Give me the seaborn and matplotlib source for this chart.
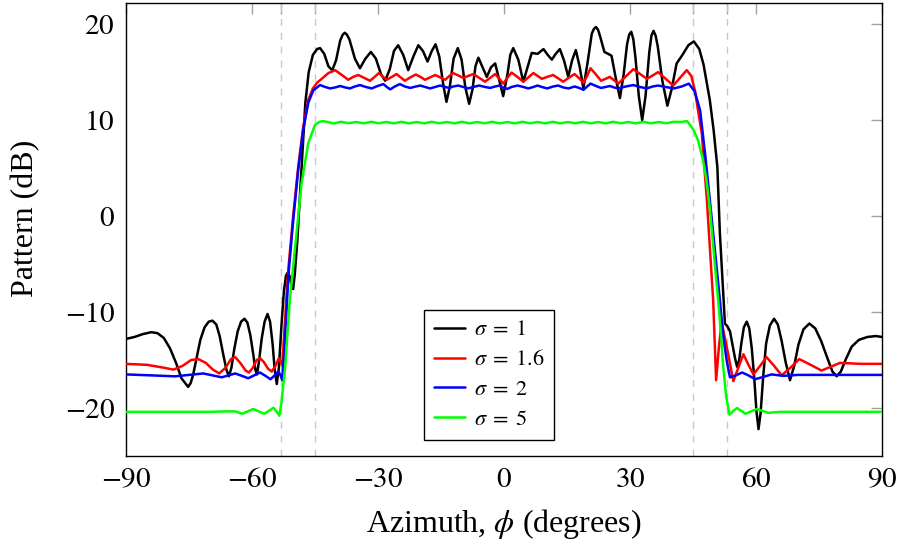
import numpy as np
import pandas as pd
import matplotlib
matplotlib.use("Agg")
import matplotlib.pyplot as plt
import seaborn as sns

# ---------------- data: (azimuth deg, pattern dB) ----------------
labels = [r"$\sigma\;=\;1$", r"$\sigma\;=\;1.6$", r"$\sigma\;=\;2$", r"$\sigma\;=\;5$"]
colors = ["#000000", "#ff0000", "#0000ff", "#00ff00"]

pts_s1 = [(-90, -12.8), (-88, -12.6), (-86, -12.3), (-84, -12.1), (-82.5, -12.2), (-81, -12.7),
          (-79.5, -13.8), (-78, -15.4), (-76.8, -16.9), (-75.2, -17.8), (-74.6, -17.4), (-74.0, -16.5),
          (-73.2, -14.8), (-72.3, -12.9), (-71.3, -11.6), (-70.3, -11.0), (-69.4, -10.9), (-68.5, -11.3),
          (-67.7, -12.5), (-66.9, -14.3), (-66.1, -16.0), (-65.5, -16.7), (-64.9, -15.8), (-64.2, -13.8),
          (-63.4, -12.0), (-62.6, -11.0), (-61.8, -10.7), (-61.1, -11.1), (-60.4, -12.4), (-59.7, -14.4),
          (-59.2, -16.0), (-58.8, -16.5), (-58.3, -15.0), (-57.7, -12.8), (-57.0, -11.0), (-56.3, -10.2),
          (-55.7, -11.0), (-55.1, -13.3), (-54.6, -16.0), (-54.1, -17.5), (-53.6, -15.8), (-53.0, -11.5),
          (-52.4, -7.8), (-51.9, -6.2), (-51.5, -5.9), (-51.0, -6.3), (-50.5, -7.5), (-50.2, -7.6),
          (-49.8, -6.0), (-49.2, -2.5), (-48.6, 2.0), (-48, 6.5), (-47.3, 11.8), (-46.5, 15.0),
          (-45.5, 16.8), (-44.5, 17.4), (-43.8, 17.5), (-42.8, 16.9), (-41.8, 15.6), (-40.9, 15.2),
          (-40, 16.2), (-39, 18.3), (-38.4, 18.9), (-37.9, 19.1), (-37.4, 18.9), (-36.8, 18.4),
          (-35.5, 16.4), (-34.3, 15.4), (-33, 16.4), (-31.7, 17.1), (-30.5, 16.4), (-29.3, 14.8),
          (-28.3, 14.1), (-27.2, 15.3), (-26.2, 17.2), (-25.2, 17.8), (-24.0, 16.8), (-22.8, 15.2),
          (-21.6, 16.6), (-20.4, 17.8), (-19.3, 17.2), (-18.2, 16.1), (-17.2, 17.2), (-16.3, 17.9),
          (-15.4, 16.6), (-14.5, 13.8), (-13.7, 11.9), (-12.9, 13.5), (-12.0, 16.4), (-11.0, 17.5),
          (-10.1, 16.3), (-9.2, 13.4), (-8.3, 11.7), (-7.5, 13.2), (-6.8, 15.6), (-6.1, 16.5),
          (-5.1, 15.5), (-4.1, 14.5), (-3.1, 15.5), (-2.1, 15.9), (-1.2, 14.3), (-0.2, 12.5),
          (0.8, 14.7), (1.5, 16.8), (2.2, 17.5), (3.4, 16.3), (4.6, 14.0), (5.6, 15.5), (6.6, 17.0),
          (8.0, 16.9), (9.4, 17.4), (10.4, 16.8), (11.4, 16.3), (12.3, 16.9), (13.3, 17.4), (14.3, 16.2),
          (15.3, 14.5), (16.2, 16.2), (17.1, 17.3), (18.0, 15.6), (18.9, 13.3), (19.9, 16.0),
          (20.9, 19.0), (21.4, 19.5), (21.9, 19.7), (22.4, 19.4), (22.9, 18.7), (23.9, 17.1),
          (24.8, 16.9), (25.6, 16.7), (26.6, 14.4), (27.6, 12.3), (28.5, 14.8), (29.3, 17.9),
          (29.8, 18.9), (30.3, 19.2), (30.8, 18.4), (31.3, 16.5), (32.1, 12.5), (32.9, 10.0),
          (33.7, 12.5), (34.6, 17.1), (35.1, 18.8), (35.6, 19.3), (36.1, 18.8), (36.6, 17.7),
          (37.7, 14.1), (38.9, 11.5), (39.9, 13.2), (41.1, 15.9), (42.5, 16.8), (43.9, 17.8),
          (45.2, 18.2), (46.5, 17.4), (47.5, 15.8), (48.3, 13.8), (49.0, 12.1), (49.9, 9.0),
          (50.8, 5.1), (51.4, -1.8), (52.0, -6.5), (52.6, -11.2), (53.2, -11.5), (53.8, -12.0),
          (54.4, -13.4), (55.0, -14.8), (55.5, -15.7), (56.0, -15.0), (56.5, -13.3), (57.1, -11.6),
          (57.8, -11.0), (58.4, -11.7), (59.0, -13.8), (59.6, -17.0), (60.1, -20.3), (60.6, -22.2),
          (61.1, -20.5), (61.7, -16.8), (62.4, -13.3), (63.3, -11.4), (64.3, -10.7), (65.2, -11.3),
          (66.1, -13.0), (67.1, -15.3), (68.1, -17.1), (69.1, -15.6), (70.1, -13.4), (71.3, -11.8),
          (72.7, -11.2), (74.1, -11.7), (75.5, -13.0), (77.0, -14.8), (78.2, -16.2), (79.2, -16.7),
          (80.2, -16.2), (81.4, -14.9), (82.8, -13.6), (84.5, -12.9), (86.5, -12.6), (88.5, -12.5),
          (90.0, -12.6)]

pts_s16 = [(-90, -15.4), (-85, -15.5), (-81, -15.8), (-78.7, -16.0), (-76.5, -15.6), (-74.5, -15.0),
           (-72.8, -14.9), (-71, -15.3), (-69.3, -16.0), (-67.8, -16.4), (-66.3, -15.8), (-65, -14.9),
           (-64.0, -14.7), (-62.8, -15.3), (-61.5, -16.1), (-60.7, -16.3), (-59.8, -15.8), (-58.9, -15.0),
           (-58.1, -14.8), (-57.2, -15.2), (-56.2, -15.9), (-55.3, -16.2), (-54.4, -15.6), (-53.6, -14.8),
           (-52.8, -15.6), (-52.3, -12.0), (-51.8, -8.5), (-51.3, -5.3), (-50.2, 0.0), (-49.0, 5.1),
           (-47.8, 9.3), (-46.6, 12.1), (-45.5, 13.3), (-44.5, 13.9), (-43.4, 14.3), (-41.8, 14.9),
           (-40.2, 15.2), (-38.6, 14.7), (-37.1, 14.2), (-35.9, 14.5), (-34.7, 14.7), (-33.3, 14.4),
           (-31.9, 14.1), (-30.8, 14.5), (-29.8, 14.9), (-28.8, 14.5), (-27.9, 14.2), (-26.7, 14.5),
           (-25.6, 14.8), (-24.6, 14.45), (-23.6, 14.1), (-22.3, 14.45), (-21.0, 14.75), (-19.9, 14.5),
           (-18.8, 14.2), (-17.6, 14.45), (-16.4, 14.7), (-15.2, 14.45), (-14.0, 14.2), (-13.0, 14.6),
           (-12.1, 14.9), (-10.9, 14.65), (-9.7, 14.4), (-8.5, 14.6), (-7.3, 14.8), (-5.9, 14.4),
           (-4.5, 14.0), (-3.3, 14.4), (-2.1, 14.8), (-1.1, 14.3), (-0.2, 13.8), (0.8, 14.4),
           (1.8, 14.95), (3.2, 14.5), (4.6, 14.0), (5.8, 14.45), (7.0, 14.9), (8.0, 14.6), (9.0, 14.3),
           (10.3, 14.5), (11.7, 14.7), (12.9, 14.35), (14.1, 14.0), (15.4, 14.4), (16.8, 14.8),
           (17.9, 14.35), (18.9, 13.9), (19.8, 14.6), (20.6, 15.4), (21.9, 14.75), (23.1, 14.1),
           (24.2, 14.3), (25.2, 14.5), (26.2, 14.15), (27.2, 13.8), (29.0, 14.55), (30.8, 15.3),
           (32.4, 14.8), (34.0, 14.3), (35.4, 14.65), (36.7, 15.0), (38.5, 14.3), (40.3, 13.6),
           (41.9, 14.4), (43.5, 15.2), (44.6, 14.6), (45.5, 13.0), (46.2, 11.0), (47.1, 8.6),
           (48.3, 1.7), (49.8, -8.75), (50.5, -17.1), (51.1, -14.0), (51.8, -11.0), (53.2, -14.0),
           (54.6, -17.2), (55.8, -15.8), (57.0, -14.4), (58.2, -15.5), (59.4, -16.5), (61.0, -15.6),
           (62.5, -14.7), (64.3, -15.6), (66.1, -16.6), (68.2, -15.8), (70.3, -14.9), (73.0, -15.5),
           (75.6, -16.1), (80.0, -15.3), (85.0, -15.4), (90.0, -15.4)]

pts_s2 = [(-90, -16.5), (-84, -16.6), (-78.3, -16.7), (-75, -16.55), (-71.6, -16.4), (-69.4, -16.6),
          (-67.2, -16.8), (-65.6, -16.6), (-64.0, -16.4), (-62.4, -16.65), (-60.9, -16.9), (-59.5, -16.6),
          (-58.1, -16.3), (-56.8, -16.65), (-55.6, -17.0), (-54.6, -16.6), (-53.7, -16.2), (-53.2, -16.6),
          (-52.8, -17.1), (-52.3, -14.0), (-51.8, -10.0), (-51.3, -6.0), (-50.2, -0.5), (-49.0, 4.8),
          (-47.8, 9.0), (-46.6, 11.8), (-45.4, 13.1), (-43.8, 13.65), (-42.6, 13.45), (-41.4, 13.3),
          (-40.2, 13.4), (-39.0, 13.55), (-37.8, 13.4), (-36.7, 13.3), (-35.5, 13.5), (-34.3, 13.65),
          (-32.9, 13.45), (-31.5, 13.3), (-30.1, 13.55), (-28.7, 13.75), (-27.9, 13.45), (-27.1, 13.2),
          (-26.0, 13.5), (-24.8, 13.75), (-23.6, 13.5), (-22.3, 13.35), (-21.0, 13.5), (-19.9, 13.6),
          (-18.8, 13.45), (-17.6, 13.3), (-16.4, 13.45), (-15.2, 13.6), (-14.0, 13.45), (-13.0, 13.35),
          (-12.1, 13.5), (-10.9, 13.6), (-9.7, 13.45), (-8.5, 13.3), (-7.3, 13.45), (-5.9, 13.6),
          (-4.5, 13.45), (-3.3, 13.35), (-2.1, 13.5), (-1.1, 13.6), (-0.2, 13.4), (0.8, 13.25),
          (1.8, 13.45), (3.2, 13.6), (4.6, 13.45), (5.8, 13.3), (7.0, 13.45), (8.0, 13.6), (9.0, 13.45),
          (10.3, 13.3), (11.7, 13.5), (12.9, 13.6), (14.1, 13.4), (15.4, 13.3), (16.8, 13.5),
          (17.9, 13.35), (18.9, 13.15), (19.8, 13.5), (20.6, 13.8), (21.9, 13.55), (23.1, 13.35),
          (24.2, 13.45), (25.2, 13.55), (26.2, 13.4), (27.2, 13.3), (29.0, 13.5), (30.8, 13.65),
          (32.4, 13.45), (34.0, 13.3), (35.4, 13.5), (36.7, 13.6), (38.5, 13.45), (40.5, 13.3),
          (42.3, 13.5), (44.0, 13.8), (45.4, 13.0), (46.7, 11.0), (48.0, 6.0), (49.0, 1.7),
          (50.2, -3.5), (51.4, -8.75), (52.2, -12.5), (53.0, -15.0), (53.8, -16.8), (55.2, -16.6),
          (56.7, -16.3), (58.2, -16.6), (59.8, -17.0), (61.8, -16.75), (63.7, -16.5), (66.5, -16.65),
          (70.0, -16.55), (80.0, -16.55), (90.0, -16.55)]

pts_s5 = [(-90, -20.4), (-80, -20.4), (-70, -20.4), (-66, -20.35), (-64, -20.35), (-62.3, -20.6),
          (-61.0, -20.35), (-59.7, -20.1), (-58.4, -20.35), (-57.1, -20.6), (-56.0, -20.3), (-54.9, -19.97),
          (-54.1, -20.4), (-53.5, -20.8), (-53.0, -19.5), (-52.1, -15.7), (-51.0, -8.75), (-49.8, -3.5),
          (-48.2, 3.4), (-46.6, 7.6), (-45.0, 9.5), (-44.0, 9.8), (-43.2, 9.9), (-42.0, 9.8),
          (-40.6, 9.65), (-38.8, 9.82), (-37.0, 9.68), (-35.2, 9.8), (-33.4, 9.66), (-31.6, 9.82),
          (-29.8, 9.67), (-28.0, 9.8), (-26.2, 9.66), (-24.4, 9.82), (-22.6, 9.66), (-20.8, 9.8),
          (-19.0, 9.66), (-17.2, 9.82), (-15.4, 9.67), (-13.6, 9.8), (-11.8, 9.66), (-10.0, 9.82),
          (-8.2, 9.66), (-6.4, 9.8), (-4.6, 9.67), (-2.8, 9.82), (-1.0, 9.66), (0.8, 9.8), (2.6, 9.66),
          (4.4, 9.82), (6.2, 9.67), (8.0, 9.8), (9.8, 9.66), (11.6, 9.82), (13.4, 9.66), (15.2, 9.8),
          (17.0, 9.67), (18.8, 9.82), (20.6, 9.66), (22.4, 9.8), (24.2, 9.66), (26.0, 9.82),
          (27.8, 9.67), (29.6, 9.8), (31.4, 9.66), (33.2, 9.82), (35.0, 9.66), (36.8, 9.8),
          (38.6, 9.67), (40.4, 9.82), (42.2, 9.8), (43.6, 9.9), (45.1, 9.0), (46.2, 7.9), (47.3, 6.0),
          (48.2, 3.8), (49.0, 0.8), (49.8, -3.0), (50.4, -6.0), (51.0, -8.75), (51.6, -12.0),
          (52.2, -15.7), (52.9, -18.8), (53.7, -20.7), (54.6, -20.3), (55.5, -20.0), (56.5, -20.3),
          (57.5, -20.6), (58.8, -20.35), (60.2, -20.1), (61.5, -20.3), (62.9, -20.5), (66.0, -20.4),
          (70.0, -20.4), (80.0, -20.4), (90.0, -20.4)]

edge_angles = [-53, -45, 45, 53]
x_ticks = [-90, -60, -30, 0, 30, 60, 90]
y_ticks = [-20, -10, 0, 10, 20]

# ---------------- build long-form table ----------------
frames = []
for lab, pts in zip(labels, [pts_s1, pts_s16, pts_s2, pts_s5]):
    xs, ys = zip(*pts)
    frames.append(pd.DataFrame({"phi": xs, "db": ys, "series": lab}))
df = pd.concat(frames, ignore_index=True)

# ---------------- styling ----------------
sns.set_theme(style="white")
plt.rcParams["font.family"] = ["Liberation Serif", "DejaVu Serif"]
plt.rcParams["mathtext.fontset"] = "stix"
plt.rcParams["text.color"] = "black"
plt.rcParams["axes.labelcolor"] = "black"
plt.rcParams["xtick.labelcolor"] = "black"
plt.rcParams["ytick.labelcolor"] = "black"

fig = plt.figure(figsize=(8.98, 5.44), dpi=100)
ax = fig.add_axes([126 / 898, 1 - 456 / 544, 756 / 898, 453 / 544])

for xv in edge_angles:
    ax.axvline(xv, color="#c8c8c8", lw=1.0, ls=(0, (5, 5)), zorder=1)

sns.lineplot(data=df, x="phi", y="db", hue="series", hue_order=labels,
             palette=dict(zip(labels, colors)), estimator=None, sort=False,
             lw=1.8, ax=ax, zorder=3)

ax.set_xlim(-90, 90)
ax.set_ylim(-25, 22.2)

all_xt = sorted(x_ticks + edge_angles)
ax.set_xticks(all_xt)
ax.set_xticklabels([("$%d$" % v if v in x_ticks else "") for v in all_xt])
ax.set_yticks(y_ticks)
ax.set_yticklabels(["$%d$" % v for v in y_ticks])
ax.tick_params(axis="both", which="major", direction="in", length=8, width=1.0,
               color="#a0a0a0", labelcolor="black", labelsize=21, top=True, right=True, pad=8)

for s in ax.spines.values():
    s.set_color("black")
    s.set_linewidth(1.0)
    s.set_visible(True)

ax.set_xlabel(r"Azimuth, $\phi$ (degrees)", fontsize=23, labelpad=10, color="black")
ax.set_ylabel("Pattern (dB)", fontsize=23, color="black")
ax.yaxis.set_label_coords(-0.114, 0.525)

leg = ax.legend(loc="lower center", bbox_to_anchor=(0.48, 0.035), borderaxespad=0,
                fontsize=16, frameon=True, fancybox=False, edgecolor="black", framealpha=1,
                handlelength=1.4, borderpad=0.45, labelspacing=0.42, handletextpad=0.4)
leg.get_frame().set_linewidth(1.0)
for t in leg.get_texts():
    t.set_color("black")
leg.set_title(None)

fig.savefig("out.png", dpi=100)
